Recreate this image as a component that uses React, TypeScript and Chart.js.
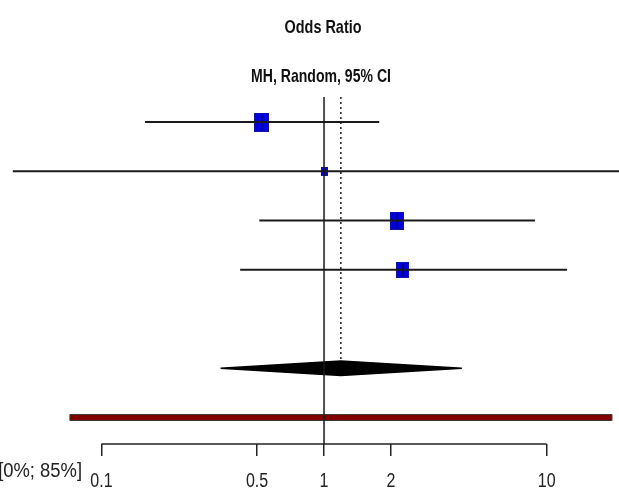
import React, { useEffect, useRef } from "react";
import { Chart, registerables } from "chart.js";

Chart.register(...registerables);

// ---- data ----
const studyRows = [1, 2, 3, 4];
const studyOR = [0.525, 1.0, 2.12, 2.26];
const studyLower = [0.157, 0.04, 0.512, 0.42];
const studyUpper = [1.77, 30, 8.87, 12.35];
const studyWeight = [35, 8, 32, 25];
const pooledRow = 6;
const pooledOR = 1.19;
const pooledLower = 0.343;
const pooledUpper = 4.16;
const predictionRow = 7;
const predictionLower = 0.0722;
const predictionUpper = 19.6;
const tickValues = [0.1, 0.5, 1, 2, 10];
const tickLabels = ["0.1", "0.5", "1", "2", "10"];
const titleText = "Odds Ratio";
const subtitleText = "MH, Random, 95% CI";
const heterogeneityText = "[0%; 85%]";

// ---- layout / style ----
const X_MIN = 0.03503;
const X_MAX = 21.14;
const Y_MIN = 0.492;
const Y_MAX = 7.538;
const DIAMOND_HALF = 0.145;
const BAR_HALF = 0.061;
const FONT = "'Liberation Sans', Arial, sans-serif";

function makeBox(weight: number): HTMLCanvasElement {
  const w = Math.max(5, Math.round(2.54 * Math.sqrt(weight)));
  const h = Math.max(6, Math.round(2.54 * 1.25 * Math.sqrt(weight)));
  const c = document.createElement("canvas");
  c.width = w;
  c.height = h;
  const ctx = c.getContext("2d")!;
  ctx.fillStyle = "rgb(0,0,225)";
  ctx.fillRect(0, 0, w, h);
  ctx.strokeStyle = "rgb(20,20,160)";
  ctx.lineWidth = 1;
  ctx.strokeRect(0.5, 0.5, w - 1, h - 1);
  ctx.strokeStyle = "rgba(0,0,0,0.8)";
  ctx.beginPath();
  ctx.moveTo(Math.floor(w / 2) + 0.5, 2);
  ctx.lineTo(Math.floor(w / 2) + 0.5, h - 2);
  ctx.stroke();
  return c;
}

function squeezedText(ctx: CanvasRenderingContext2D, text: string, x: number, y: number, sx: number, align: CanvasTextAlign) {
  ctx.save();
  ctx.translate(x, y);
  ctx.scale(sx, 1);
  ctx.textAlign = align;
  ctx.textBaseline = "alphabetic";
  ctx.fillText(text, 0, 0);
  ctx.restore();
}

const decorPlugin = {
  id: "forestDecor",
  afterDraw(chart: any) {
    const ctx = chart.ctx as CanvasRenderingContext2D;
    const xs = chart.scales.x;
    const area = chart.chartArea;
    ctx.save();
    // axis line between first and last tick
    ctx.strokeStyle = "#222";
    ctx.lineWidth = 1.5;
    ctx.beginPath();
    ctx.moveTo(xs.getPixelForValue(tickValues[0]), area.bottom);
    ctx.lineTo(xs.getPixelForValue(tickValues[tickValues.length - 1]), area.bottom);
    ctx.stroke();
    // tick labels
    ctx.fillStyle = "#222";
    ctx.font = "20px " + FONT;
    tickValues.forEach((v, i) => {
      squeezedText(ctx, tickLabels[i], xs.getPixelForValue(v), 487, 0.8, "center");
    });
    // heterogeneity text
    squeezedText(ctx, heterogeneityText, 82, 477, 0.92, "right");
    // titles
    const cx = xs.getPixelForValue(1) - 1;
    ctx.fillStyle = "#111";
    ctx.font = "bold 19px " + FONT;
    squeezedText(ctx, titleText, cx, 33, 0.76, "center");
    squeezedText(ctx, subtitleText, cx - 2, 82, 0.74, "center");
    ctx.restore();
  },
};

export default function App() {
  const ref = useRef<HTMLCanvasElement | null>(null);

  useEffect(() => {
    if (!ref.current) return;
    const lineColor = "#1a1a1a";

    const ciSets = studyRows.map((r, i) => ({
      type: "line" as const,
      data: [
        { x: studyLower[i], y: r },
        { x: studyUpper[i], y: r },
      ],
      borderColor: lineColor,
      borderWidth: 1.8,
      pointRadius: 0,
      fill: false,
      order: 1,
    }));

    const datasets: any[] = [
      // line of no effect
      {
        type: "line",
        data: [
          { x: 1, y: Y_MIN },
          { x: 1, y: Y_MAX },
        ],
        borderColor: lineColor,
        borderWidth: 1.5,
        pointRadius: 0,
        fill: false,
        order: 0,
      },
      // pooled estimate dotted line
      {
        type: "line",
        data: [
          { x: pooledOR, y: Y_MIN },
          { x: pooledOR, y: pooledRow - DIAMOND_HALF },
        ],
        borderColor: lineColor,
        borderWidth: 1.5,
        borderDash: [2, 3],
        pointRadius: 0,
        fill: false,
        order: 0,
      },
      ...ciSets,
      // study boxes
      {
        type: "scatter",
        data: studyRows.map((r, i) => ({ x: studyOR[i], y: r })),
        pointStyle: studyWeight.map((w) => makeBox(w)),
        pointRadius: 8,
        order: 5,
      },
      // pooled diamond
      {
        type: "line",
        data: [
          { x: pooledLower, y: pooledRow },
          { x: pooledOR, y: pooledRow - DIAMOND_HALF },
          { x: pooledUpper, y: pooledRow },
          { x: pooledOR, y: pooledRow + DIAMOND_HALF },
          { x: pooledLower, y: pooledRow },
        ],
        borderColor: "#000",
        backgroundColor: "#000",
        borderWidth: 1.5,
        pointRadius: 0,
        fill: "shape",
        tension: 0,
        order: 3,
      },
      // prediction interval bar
      {
        type: "line",
        data: [
          { x: predictionLower, y: predictionRow - BAR_HALF },
          { x: predictionUpper, y: predictionRow - BAR_HALF },
          { x: predictionUpper, y: predictionRow + BAR_HALF },
          { x: predictionLower, y: predictionRow + BAR_HALF },
          { x: predictionLower, y: predictionRow - BAR_HALF },
        ],
        borderColor: "#3a3a3a",
        backgroundColor: "rgb(128,0,0)",
        borderWidth: 1,
        pointRadius: 0,
        fill: "shape",
        tension: 0,
        order: 4,
      },
    ];

    const chart = new Chart(ref.current, {
      type: "scatter",
      data: { datasets },
      options: {
        animation: false,
        responsive: true,
        maintainAspectRatio: false,
        events: [],
        layout: { autoPadding: false, padding: { top: 97, left: 0, right: 0, bottom: 0 } },
        plugins: {
          legend: { display: false },
          tooltip: { enabled: false },
          title: { display: false },
        },
        scales: {
          x: {
            type: "logarithmic",
            position: "bottom",
            min: X_MIN,
            max: X_MAX,
            afterBuildTicks: (scale: any) => {
              scale.ticks = tickValues.map((v) => ({ value: v }));
            },
            afterFit: (scale: any) => {
              scale.height = 46;
            },
            ticks: {
              display: false,
              autoSkip: false,
              maxRotation: 0,
            },
            grid: {
              drawOnChartArea: false,
              drawTicks: true,
              tickLength: 12,
              color: "#222",
              lineWidth: 1.5,
            },
            border: { display: false },
          },
          y: {
            type: "linear",
            display: false,
            reverse: true,
            min: Y_MIN,
            max: Y_MAX,
          },
        },
      },
      plugins: [decorPlugin],
    } as any);

    return () => chart.destroy();
  }, []);

  return (
    <div style={{ position: "absolute", left: 0, top: 0, width: 619, height: 490, background: "#fff" }}>
      <canvas ref={ref} />
    </div>
  );
}
